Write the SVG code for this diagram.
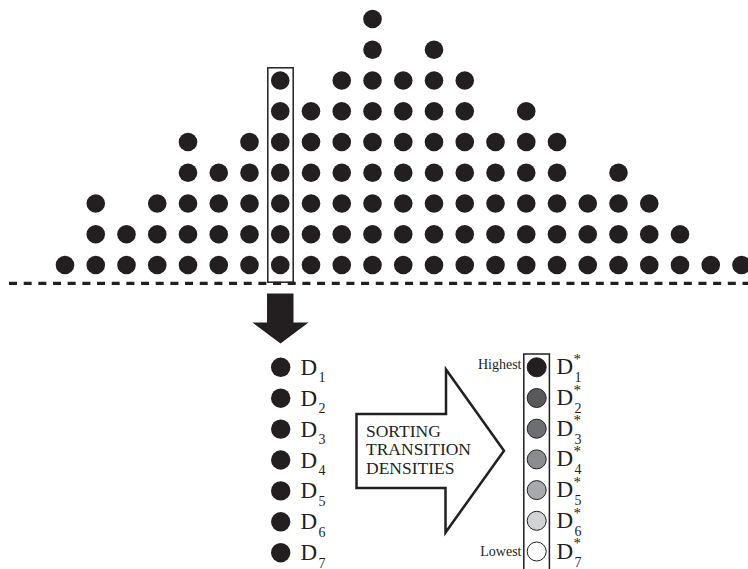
<svg xmlns="http://www.w3.org/2000/svg" width="748" height="569" viewBox="0 0 748 569">
<style>
.dot{fill:#231f20}
.t{font-family:"Liberation Serif","Times New Roman",serif;fill:#231f20}
.big{font-size:23px}
.sm{font-size:14px}
.st{font-size:15px}
.lbl{font-size:14px}
.arr{font-size:17.5px}
.ring{stroke:#231f20;stroke-width:1}
</style>
<rect width="748" height="569" fill="#ffffff"/>
<g id="dot-plot">
<g transform="translate(65,0)"><circle class="dot" cx="0" cy="265" r="9.3"/></g>
<g transform="translate(95.75,0)"><circle class="dot" cx="0" cy="265" r="9.3"/><circle class="dot" cx="0" cy="234.25" r="9.3"/><circle class="dot" cx="0" cy="203.5" r="9.3"/></g>
<g transform="translate(126.5,0)"><circle class="dot" cx="0" cy="265" r="9.3"/><circle class="dot" cx="0" cy="234.25" r="9.3"/></g>
<g transform="translate(157.25,0)"><circle class="dot" cx="0" cy="265" r="9.3"/><circle class="dot" cx="0" cy="234.25" r="9.3"/><circle class="dot" cx="0" cy="203.5" r="9.3"/></g>
<g transform="translate(188,0)"><circle class="dot" cx="0" cy="265" r="9.3"/><circle class="dot" cx="0" cy="234.25" r="9.3"/><circle class="dot" cx="0" cy="203.5" r="9.3"/><circle class="dot" cx="0" cy="172.75" r="9.3"/><circle class="dot" cx="0" cy="142" r="9.3"/></g>
<g transform="translate(218.75,0)"><circle class="dot" cx="0" cy="265" r="9.3"/><circle class="dot" cx="0" cy="234.25" r="9.3"/><circle class="dot" cx="0" cy="203.5" r="9.3"/><circle class="dot" cx="0" cy="172.75" r="9.3"/></g>
<g transform="translate(249.5,0)"><circle class="dot" cx="0" cy="265" r="9.3"/><circle class="dot" cx="0" cy="234.25" r="9.3"/><circle class="dot" cx="0" cy="203.5" r="9.3"/><circle class="dot" cx="0" cy="172.75" r="9.3"/><circle class="dot" cx="0" cy="142" r="9.3"/></g>
<g transform="translate(280.25,0)"><circle class="dot" cx="0" cy="265" r="9.3"/><circle class="dot" cx="0" cy="234.25" r="9.3"/><circle class="dot" cx="0" cy="203.5" r="9.3"/><circle class="dot" cx="0" cy="172.75" r="9.3"/><circle class="dot" cx="0" cy="142" r="9.3"/><circle class="dot" cx="0" cy="111.25" r="9.3"/><circle class="dot" cx="0" cy="80.5" r="9.3"/></g>
<g transform="translate(311,0)"><circle class="dot" cx="0" cy="265" r="9.3"/><circle class="dot" cx="0" cy="234.25" r="9.3"/><circle class="dot" cx="0" cy="203.5" r="9.3"/><circle class="dot" cx="0" cy="172.75" r="9.3"/><circle class="dot" cx="0" cy="142" r="9.3"/><circle class="dot" cx="0" cy="111.25" r="9.3"/></g>
<g transform="translate(341.75,0)"><circle class="dot" cx="0" cy="265" r="9.3"/><circle class="dot" cx="0" cy="234.25" r="9.3"/><circle class="dot" cx="0" cy="203.5" r="9.3"/><circle class="dot" cx="0" cy="172.75" r="9.3"/><circle class="dot" cx="0" cy="142" r="9.3"/><circle class="dot" cx="0" cy="111.25" r="9.3"/><circle class="dot" cx="0" cy="80.5" r="9.3"/></g>
<g transform="translate(372.5,0)"><circle class="dot" cx="0" cy="265" r="9.3"/><circle class="dot" cx="0" cy="234.25" r="9.3"/><circle class="dot" cx="0" cy="203.5" r="9.3"/><circle class="dot" cx="0" cy="172.75" r="9.3"/><circle class="dot" cx="0" cy="142" r="9.3"/><circle class="dot" cx="0" cy="111.25" r="9.3"/><circle class="dot" cx="0" cy="80.5" r="9.3"/><circle class="dot" cx="0" cy="49.75" r="9.3"/><circle class="dot" cx="0" cy="19" r="9.3"/></g>
<g transform="translate(403.25,0)"><circle class="dot" cx="0" cy="265" r="9.3"/><circle class="dot" cx="0" cy="234.25" r="9.3"/><circle class="dot" cx="0" cy="203.5" r="9.3"/><circle class="dot" cx="0" cy="172.75" r="9.3"/><circle class="dot" cx="0" cy="142" r="9.3"/><circle class="dot" cx="0" cy="111.25" r="9.3"/><circle class="dot" cx="0" cy="80.5" r="9.3"/></g>
<g transform="translate(434,0)"><circle class="dot" cx="0" cy="265" r="9.3"/><circle class="dot" cx="0" cy="234.25" r="9.3"/><circle class="dot" cx="0" cy="203.5" r="9.3"/><circle class="dot" cx="0" cy="172.75" r="9.3"/><circle class="dot" cx="0" cy="142" r="9.3"/><circle class="dot" cx="0" cy="111.25" r="9.3"/><circle class="dot" cx="0" cy="80.5" r="9.3"/><circle class="dot" cx="0" cy="49.75" r="9.3"/></g>
<g transform="translate(464.75,0)"><circle class="dot" cx="0" cy="265" r="9.3"/><circle class="dot" cx="0" cy="234.25" r="9.3"/><circle class="dot" cx="0" cy="203.5" r="9.3"/><circle class="dot" cx="0" cy="172.75" r="9.3"/><circle class="dot" cx="0" cy="142" r="9.3"/><circle class="dot" cx="0" cy="111.25" r="9.3"/><circle class="dot" cx="0" cy="80.5" r="9.3"/></g>
<g transform="translate(495.5,0)"><circle class="dot" cx="0" cy="265" r="9.3"/><circle class="dot" cx="0" cy="234.25" r="9.3"/><circle class="dot" cx="0" cy="203.5" r="9.3"/><circle class="dot" cx="0" cy="172.75" r="9.3"/><circle class="dot" cx="0" cy="142" r="9.3"/></g>
<g transform="translate(526.25,0)"><circle class="dot" cx="0" cy="265" r="9.3"/><circle class="dot" cx="0" cy="234.25" r="9.3"/><circle class="dot" cx="0" cy="203.5" r="9.3"/><circle class="dot" cx="0" cy="172.75" r="9.3"/><circle class="dot" cx="0" cy="142" r="9.3"/><circle class="dot" cx="0" cy="111.25" r="9.3"/></g>
<g transform="translate(557,0)"><circle class="dot" cx="0" cy="265" r="9.3"/><circle class="dot" cx="0" cy="234.25" r="9.3"/><circle class="dot" cx="0" cy="203.5" r="9.3"/><circle class="dot" cx="0" cy="172.75" r="9.3"/><circle class="dot" cx="0" cy="142" r="9.3"/></g>
<g transform="translate(587.75,0)"><circle class="dot" cx="0" cy="265" r="9.3"/><circle class="dot" cx="0" cy="234.25" r="9.3"/><circle class="dot" cx="0" cy="203.5" r="9.3"/></g>
<g transform="translate(618.5,0)"><circle class="dot" cx="0" cy="265" r="9.3"/><circle class="dot" cx="0" cy="234.25" r="9.3"/><circle class="dot" cx="0" cy="203.5" r="9.3"/><circle class="dot" cx="0" cy="172.75" r="9.3"/></g>
<g transform="translate(649.25,0)"><circle class="dot" cx="0" cy="265" r="9.3"/><circle class="dot" cx="0" cy="234.25" r="9.3"/><circle class="dot" cx="0" cy="203.5" r="9.3"/></g>
<g transform="translate(680,0)"><circle class="dot" cx="0" cy="265" r="9.3"/><circle class="dot" cx="0" cy="234.25" r="9.3"/></g>
<g transform="translate(710.75,0)"><circle class="dot" cx="0" cy="265" r="9.3"/></g>
<g transform="translate(741.5,0)"><circle class="dot" cx="0" cy="265" r="9.3"/></g>
</g>
<g id="selected-column">
<rect x="267.8" y="67.8" width="25.4" height="214.4" fill="none" stroke="#231f20" stroke-width="1.5"/>
</g>
<g id="baseline">
<line x1="9" y1="283.3" x2="748" y2="283.3" stroke="#231f20" stroke-width="3.2" stroke-dasharray="8 6.67"/>
</g>
<g id="connectors">
<polygon points="267,293.5 293.5,293.5 293.5,322.5 308.5,322.5 280.5,343.5 252.5,322.5 267,322.5" fill="#231f20"/>
</g>
<g id="unsorted-list">
<circle class="dot" cx="280.7" cy="367.3" r="9.7"/>
<circle class="dot" cx="280.7" cy="398.2" r="9.7"/>
<circle class="dot" cx="280.7" cy="429.1" r="9.7"/>
<circle class="dot" cx="280.7" cy="460" r="9.7"/>
<circle class="dot" cx="280.7" cy="490.9" r="9.7"/>
<circle class="dot" cx="280.7" cy="521.8" r="9.7"/>
<circle class="dot" cx="280.7" cy="552.7" r="9.7"/>
<text class="t big" x="300.5" y="374.8">D</text><text class="t sm" x="318.5" y="382.3">1</text>
<text class="t big" x="300.5" y="405.7">D</text><text class="t sm" x="318.5" y="413.2">2</text>
<text class="t big" x="300.5" y="436.6">D</text><text class="t sm" x="318.5" y="444.1">3</text>
<text class="t big" x="300.5" y="467.5">D</text><text class="t sm" x="318.5" y="475">4</text>
<text class="t big" x="300.5" y="498.4">D</text><text class="t sm" x="318.5" y="505.9">5</text>
<text class="t big" x="300.5" y="529.3">D</text><text class="t sm" x="318.5" y="536.8">6</text>
<text class="t big" x="300.5" y="560.2">D</text><text class="t sm" x="318.5" y="567.7">7</text>
</g>
<g id="sorting-arrow">
<polygon points="356.5,414 446,414 446,369.5 504,450.8 445.5,532.5 445.5,488 356.5,488" fill="#ffffff" stroke="#231f20" stroke-width="2.5" stroke-linejoin="miter"/>
<text class="t arr" x="366" y="436.5">SORTING</text>
<text class="t arr" x="366" y="455">TRANSITION</text>
<text class="t arr" x="366" y="473.5">DENSITIES</text>
</g>
<g id="sorted-list">
<rect x="523.8" y="354" width="25.6" height="230" fill="none" stroke="#231f20" stroke-width="1.5"/>
<circle class="ring" cx="536.7" cy="367.3" r="9.5" fill="#231f20"/>
<circle class="ring" cx="536.7" cy="398" r="9.5" fill="#58595b"/>
<circle class="ring" cx="536.7" cy="428.7" r="9.5" fill="#6d6e71"/>
<circle class="ring" cx="536.7" cy="459.4" r="9.5" fill="#8a8c8f"/>
<circle class="ring" cx="536.7" cy="490.1" r="9.5" fill="#a7a9ac"/>
<circle class="ring" cx="536.7" cy="520.8" r="9.5" fill="#d1d3d4"/>
<circle class="ring" cx="536.7" cy="551.5" r="9.5" fill="#ffffff"/>
<text class="t lbl" x="521.5" y="368.5" text-anchor="end">Highest</text>
<text class="t lbl" x="521.5" y="556" text-anchor="end">Lowest</text>
<text class="t big" x="556.5" y="374.3">D</text><text class="t st" x="573.5" y="364">*</text><text class="t sm" x="574.5" y="382.3">1</text>
<text class="t big" x="556.5" y="405">D</text><text class="t st" x="573.5" y="394.7">*</text><text class="t sm" x="574.5" y="413">2</text>
<text class="t big" x="556.5" y="435.7">D</text><text class="t st" x="573.5" y="425.4">*</text><text class="t sm" x="574.5" y="443.7">3</text>
<text class="t big" x="556.5" y="466.4">D</text><text class="t st" x="573.5" y="456.1">*</text><text class="t sm" x="574.5" y="474.4">4</text>
<text class="t big" x="556.5" y="497.1">D</text><text class="t st" x="573.5" y="486.8">*</text><text class="t sm" x="574.5" y="505.1">5</text>
<text class="t big" x="556.5" y="527.8">D</text><text class="t st" x="573.5" y="517.5">*</text><text class="t sm" x="574.5" y="535.8">6</text>
<text class="t big" x="556.5" y="558.5">D</text><text class="t st" x="573.5" y="548.2">*</text><text class="t sm" x="574.5" y="566.5">7</text>
</g>
</svg>
